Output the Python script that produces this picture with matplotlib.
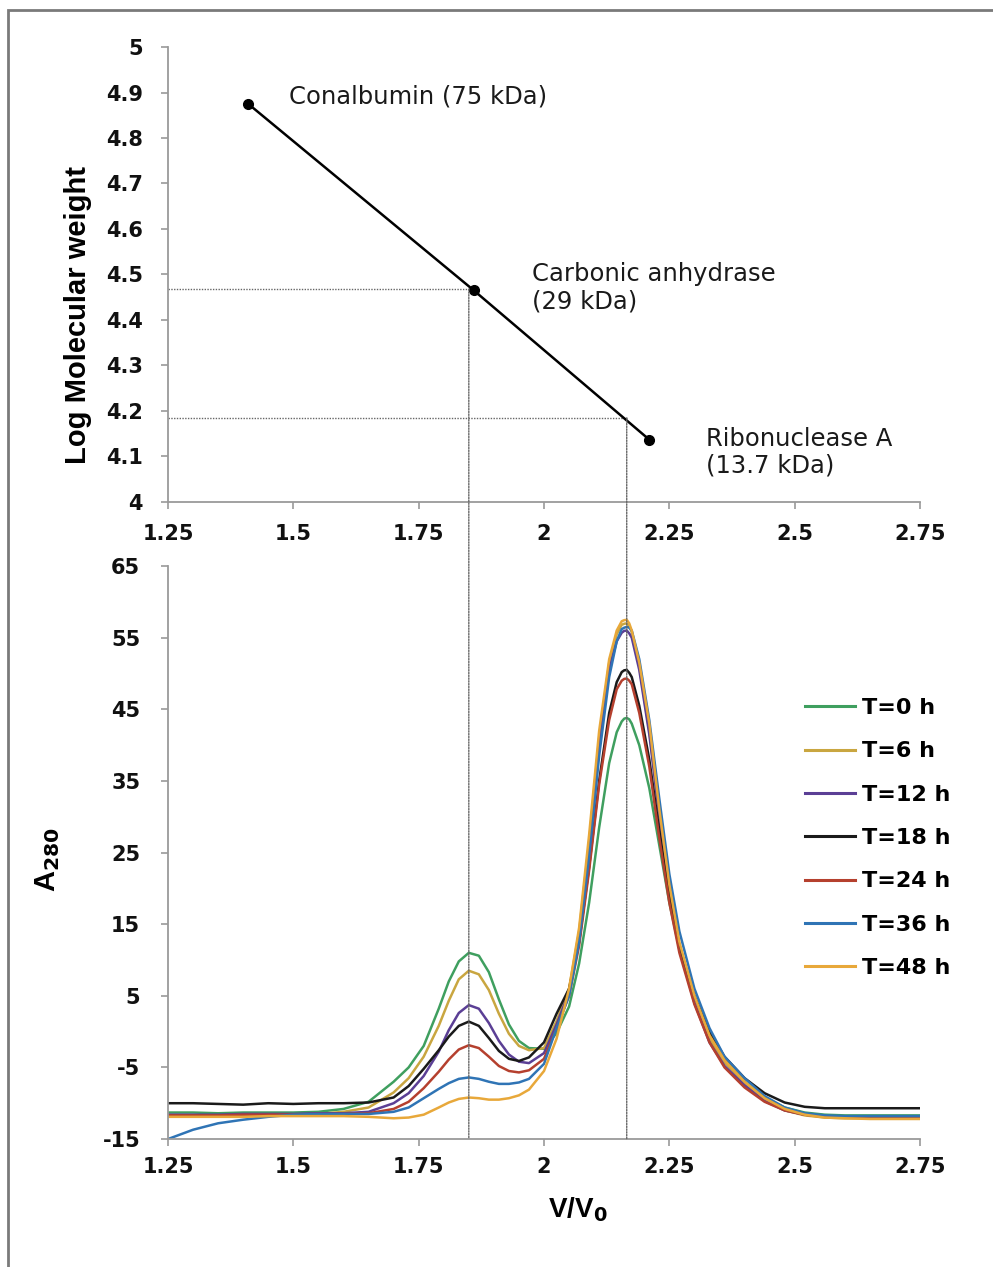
import matplotlib
matplotlib.use("Agg")
import matplotlib.pyplot as plt
from matplotlib.patches import Rectangle, ConnectionPatch

plt.rcParams['axes.unicode_minus'] = False
plt.rcParams['font.family'] = ['DejaVu Sans']

# ---- calibration data (top panel) ----
std_names = ["Conalbumin (75 kDa)", "Carbonic anhydrase\n(29 kDa)", "Ribonuclease A\n(13.7 kDa)"]
std_ve = [1.41, 1.86, 2.21]
std_logmw = [4.875, 4.465, 4.137]

# elution positions of the sample peaks and their read-off log MW
peak_ve = [1.85, 2.165]
peak_logmw = [4.468, 4.185]

top_yticks = [4, 4.1, 4.2, 4.3, 4.4, 4.5, 4.6, 4.7, 4.8, 4.9, 5]
top_ylabels = ["4", "4.1", "4.2", "4.3", "4.4", "4.5", "4.6", "4.7", "4.8", "4.9", "5"]
xticks = [1.25, 1.5, 1.75, 2.0, 2.25, 2.5, 2.75]
xlabels = ["1.25", "1.5", "1.75", "2", "2.25", "2.5", "2.75"]
bot_yticks = [-15, -5, 5, 15, 25, 35, 45, 55, 65]
bot_ylabels = ["-15", "-5", "5", "15", "25", "35", "45", "55", "65"]

# ---- chromatograms (bottom panel) ----
v = [1.25, 1.30, 1.35, 1.40, 1.45, 1.50, 1.55, 1.60, 1.65, 1.70,
     1.73, 1.76, 1.79,
     1.81, 1.83, 1.85, 1.87, 1.89, 1.91, 1.93, 1.95, 1.97,
     2.00, 2.025, 2.05, 2.07, 2.09, 2.11, 2.13,
     2.145, 2.155, 2.16, 2.165, 2.17, 2.175, 2.19,
     2.21, 2.23, 2.25, 2.27,
     2.30, 2.33, 2.36,
     2.40, 2.44, 2.48, 2.52, 2.56, 2.60,
     2.65, 2.70, 2.75]

a_t0 = [-11.3, -11.3, -11.4, -11.3, -11.3, -11.3, -11.2, -10.8, -9.8, -7.0,
        -5.0, -2.0, 3.2,
        7.0, 9.8, 11.0, 10.6, 8.3, 4.5, 1.0, -1.3, -2.3,
        -2.4, -0.2, 3.5, 9.5, 18.0, 28.5, 37.5,
        41.8, 43.3, 43.7, 43.8, 43.6, 43.0, 40.0,
        34.0, 26.0, 18.0, 11.5,
        4.5, -0.5, -4.0,
        -7.0, -9.2, -10.6, -11.3, -11.6, -11.7,
        -11.7, -11.7, -11.7]
a_t6 = [-11.8, -11.8, -11.8, -11.7, -11.7, -11.6, -11.5, -11.2, -10.6, -8.5,
        -6.5, -3.5, 0.8,
        4.3, 7.3, 8.5, 8.0, 5.8, 2.5, -0.3, -2.0, -2.6,
        -2.3, 1.5, 6.0, 14.0, 26.5, 41.0, 51.5,
        55.5, 56.8, 56.95, 57.0, 56.6, 55.8, 51.0,
        42.0, 30.5, 20.0, 12.0,
        4.5, -1.0, -4.3,
        -7.2, -9.5, -11.0, -11.7, -12.0, -12.1,
        -12.1, -12.1, -12.1]
a_t12 = [-11.6, -11.6, -11.6, -11.5, -11.5, -11.5, -11.4, -11.4, -11.2, -10.0,
         -8.6, -6.2, -2.8,
         0.2, 2.6, 3.7, 3.2, 1.2, -1.3, -3.2, -4.2, -4.4,
         -3.0, 1.0, 5.5, 13.0, 25.5, 40.0, 50.5,
         54.5, 55.7, 55.95, 56.0, 55.6, 55.0, 50.5,
         41.5, 30.0, 19.5, 11.5,
         4.0, -1.5, -4.8,
         -7.5, -9.7, -11.0, -11.6, -11.8, -11.9,
         -11.9, -11.9, -11.9]
a_t18 = [-10.0, -10.0, -10.1, -10.2, -10.0, -10.1, -10.0, -10.0, -9.9, -9.2,
         -7.6, -5.2, -2.6,
         -0.7, 0.8, 1.4, 0.8, -0.9, -2.7, -3.8, -4.1, -3.6,
         -1.5, 2.5, 6.0, 12.5, 23.0, 35.0, 44.5,
         48.8, 50.2, 50.45, 50.5, 50.1, 49.5, 45.5,
         38.0, 28.0, 19.0, 12.0,
         5.0, 0.0, -3.5,
         -6.5, -8.6, -9.9, -10.5, -10.7, -10.7,
         -10.7, -10.7, -10.7]
a_t24 = [-11.7, -11.7, -11.7, -11.6, -11.6, -11.6, -11.5, -11.5, -11.4, -10.8,
         -9.8, -7.9, -5.6,
         -3.9, -2.5, -1.9, -2.3, -3.5, -4.8, -5.5, -5.7, -5.4,
         -3.8, 0.5, 5.0, 12.0, 22.5, 34.5, 43.5,
         47.8, 49.0, 49.25, 49.3, 49.0, 48.5, 44.5,
         37.0, 27.0, 18.0, 11.0,
         3.8, -1.5, -5.0,
         -7.8, -9.8, -11.0, -11.6, -11.9, -12.0,
         -12.0, -12.0, -12.0]
a_t36 = [-15.0, -13.7, -12.8, -12.3, -11.9, -11.6, -11.5, -11.5, -11.5, -11.2,
         -10.6, -9.3, -8.0,
         -7.2, -6.6, -6.4, -6.6, -7.0, -7.3, -7.3, -7.1, -6.6,
         -4.5, 0.5, 5.0, 12.5, 24.5, 38.5, 49.5,
         54.5, 56.2, 56.4, 56.5, 56.4, 56.0, 52.0,
         43.5, 32.5, 22.0, 14.0,
         6.0, 0.5, -3.5,
         -6.5, -9.0, -10.6, -11.4, -11.7, -11.8,
         -11.8, -11.8, -11.8]
a_t48 = [-11.9, -11.9, -11.9, -11.9, -11.8, -11.8, -11.8, -11.8, -11.9, -12.1,
         -12.0, -11.6, -10.6,
         -9.9, -9.4, -9.2, -9.3, -9.5, -9.5, -9.3, -8.9, -8.1,
         -5.5, -1.0, 6.0, 14.5, 27.5, 42.0, 52.0,
         56.0, 57.3, 57.45, 57.5, 57.0, 56.0, 51.5,
         43.0, 31.0, 20.5, 12.5,
         5.0, -0.5, -4.0,
         -7.0, -9.3, -10.8, -11.6, -12.0, -12.1,
         -12.2, -12.2, -12.2]

series_labels = ["T=0 h", "T=6 h", "T=12 h", "T=18 h", "T=24 h", "T=36 h", "T=48 h"]
series_values = [a_t0, a_t6, a_t12, a_t18, a_t24, a_t36, a_t48]
series_colors = ["#3f9f5f", "#c9a640", "#5b3f95", "#1a1a1a", "#b5402e", "#2f74b5", "#e8a83a"]

# ---- figure ----
fig = plt.figure(figsize=(9.93, 12.67), dpi=100)
ax1 = fig.add_axes([0.1692, 0.6038, 0.7573, 0.3591])
ax2 = fig.add_axes([0.1692, 0.1010, 0.7573, 0.4522])

spine_col = "#9a9a9a"
for ax in (ax1, ax2):
    for s in ("top", "right"):
        ax.spines[s].set_visible(False)
    for s in ("left", "bottom"):
        ax.spines[s].set_color(spine_col)
        ax.spines[s].set_linewidth(1.3)
    ax.set_xlim(1.25, 2.75)
    ax.set_xticks(xticks)
    ax.set_xticklabels(xlabels)
    ax.tick_params(axis="both", direction="out", color=spine_col, width=1.2,
                   length=5, labelsize=15, labelcolor="#111111")
    for lab in ax.get_xticklabels() + ax.get_yticklabels():
        lab.set_fontweight("bold")

ax1.tick_params(axis="x", pad=11)
ax1.tick_params(axis="y", pad=13)
ax2.tick_params(axis="x", pad=8)
ax2.tick_params(axis="y", pad=15)

# top panel
ax1.set_ylim(4, 5)
ax1.set_yticks(top_yticks)
ax1.set_yticklabels(top_ylabels, fontweight="bold")
ax1.plot(std_ve, std_logmw, color="black", lw=1.8, marker="o", markersize=7, zorder=3)

offsets = [(29, 5), (42, 2), (41, -9)]
for name, xv, yv, off in zip(std_names, std_ve, std_logmw, offsets):
    ax1.annotate(name, (xv, yv), xytext=off, textcoords="offset points",
                 ha="left", va="center", fontsize=17.5, color="#1a1a1a", linespacing=1.15)

dot_kw = dict(color="#666666", lw=1.0, linestyle=(0, (1, 1)))
for pv, pm in zip(peak_ve, peak_logmw):
    ax1.plot([1.25, pv], [pm, pm], **dot_kw, zorder=1)
    con = ConnectionPatch(xyA=(pv, pm), coordsA=ax1.transData,
                          xyB=(pv, -15), coordsB=ax2.transData, **dot_kw)
    fig.add_artist(con)

fig.text(78 / 993, 1 - 315 / 1267, "Log Molecular weight", rotation=90,
         ha="center", va="center", fontsize=21, fontweight="bold",
         family="Liberation Sans")

# bottom panel
ax2.set_ylim(-15, 65)
ax2.set_yticks(bot_yticks)
ax2.set_yticklabels(bot_ylabels, fontweight="bold")
for lab, vals, col in zip(series_labels, series_values, series_colors):
    ax2.plot(v, vals, color=col, lw=1.8, label=lab)

leg = ax2.legend(loc="upper left", bbox_to_anchor=(805 / 993, 1 - 698 / 1267),
                 bbox_transform=fig.transFigure, frameon=False, borderpad=0,
                 borderaxespad=0, handlelength=2.25, handletextpad=0.3,
                 labelspacing=1.05, prop={"size": 16, "weight": "bold"})
for h in leg.get_lines():
    h.set_linewidth(2.2)

fig.text(48 / 993, 1 - 860 / 1267, r"A$_{\mathbf{280}}$", rotation=90,
         ha="center", va="center", fontsize=21, fontweight="bold",
         family="Liberation Sans")
fig.text(578 / 993, 1 - 1210 / 1267, r"V/V$_{\mathbf{0}}$",
         ha="center", va="center", fontsize=20, fontweight="bold",
         family="Liberation Sans")

# outer frame
fig.patches.append(Rectangle((8 / 993, -0.02), 1.1, 1 - 10 / 1267 + 0.02,
                             transform=fig.transFigure, fill=False,
                             edgecolor="#7a7a7a", lw=2))

fig.savefig("out.png", dpi=100)
